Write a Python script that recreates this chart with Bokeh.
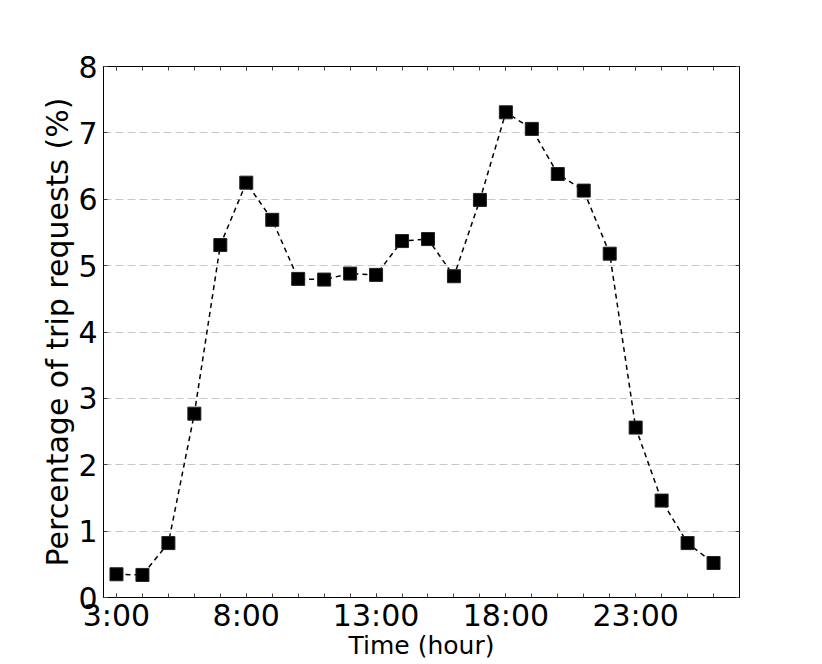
from bokeh.plotting import figure
from bokeh.models import FixedTicker, LinearAxis, Range1d, Grid
from bokeh.embed import file_html
from bokeh.resources import INLINE

# ---- data ----
hours = list(range(3, 27))
pct = [0.35, 0.34, 0.82, 2.77, 5.31, 6.25, 5.69, 4.80, 4.79, 4.88, 4.86, 5.37,
       5.40, 4.84, 5.99, 7.31, 7.06, 6.38, 6.13, 5.18, 2.56, 1.46, 0.82, 0.52]
x_ticks = [3, 8, 13, 18, 23]
x_tick_labels = ["3:00", "8:00", "13:00", "18:00", "23:00"]
y_ticks = [0, 1, 2, 3, 4, 5, 6, 7, 8]
x_label = "Time (hour)"
y_label = "Percentage of trip requests (%)"

FONT = "DejaVu Sans"

p = figure(width=814, height=664,
           x_range=Range1d(2.5, 27), y_range=Range1d(0, 8),
           output_backend="svg", toolbar_location=None,
           min_border_left=103, min_border_right=75,
           min_border_top=66, min_border_bottom=67,
           x_axis_type=None, y_axis_type=None)

p.background_fill_color = "white"
p.border_fill_color = "white"
p.outline_line_color = "black"
p.outline_line_width = 1


def make_axis(kind, loc, show_labels):
    ax = LinearAxis()
    if kind == "x":
        ax.ticker = FixedTicker(ticks=x_ticks, minor_ticks=hours)
        if show_labels:
            ax.major_label_overrides = dict(zip(x_ticks, x_tick_labels))
        else:
            ax.major_label_overrides = {t: "" for t in x_ticks}
    else:
        ax.ticker = FixedTicker(ticks=y_ticks, minor_ticks=[])
        if not show_labels:
            ax.major_label_overrides = {t: "" for t in y_ticks}
    ax.axis_line_color = "black"
    ax.axis_line_width = 1
    ax.major_tick_in = 4
    ax.major_tick_out = 0
    ax.minor_tick_in = 4 if kind == "x" else 0
    ax.minor_tick_out = 0
    ax.major_tick_line_color = "#444444"
    ax.minor_tick_line_color = "#444444"
    ax.major_label_text_font = FONT
    ax.major_label_text_color = "black"
    if show_labels:
        ax.major_label_text_font_size = "30px"
        ax.major_label_standoff = 6 if kind == "y" else 0
    else:
        ax.major_label_standoff = 0
    p.add_layout(ax, loc)
    return ax


xb = make_axis("x", "below", True)
make_axis("x", "above", False)
yl = make_axis("y", "left", True)
make_axis("y", "right", False)

yl.axis_label = y_label
yl.axis_label_text_font = FONT
yl.axis_label_text_font_size = "30px"
yl.axis_label_text_font_style = "normal"
yl.axis_label_text_color = "black"
yl.axis_label_standoff = 0

xb.axis_label = x_label
xb.axis_label_text_font = FONT
xb.axis_label_text_font_size = "25px"
xb.axis_label_text_font_style = "normal"
xb.axis_label_text_color = "black"
xb.axis_label_standoff = -5

# horizontal dashed grid
g = Grid(dimension=1, ticker=FixedTicker(ticks=y_ticks))
g.grid_line_color = "#c8c8c8"
g.grid_line_dash = "8 4"
g.grid_line_width = 1
p.add_layout(g)

p.line(hours, pct, line_color="black", line_dash="5 4", line_width=1.5)
p.scatter(hours, pct, marker="square", size=13, fill_color="black",
          line_color="#222222", line_width=1)

open("out.html", "w").write(file_html(p, INLINE))
